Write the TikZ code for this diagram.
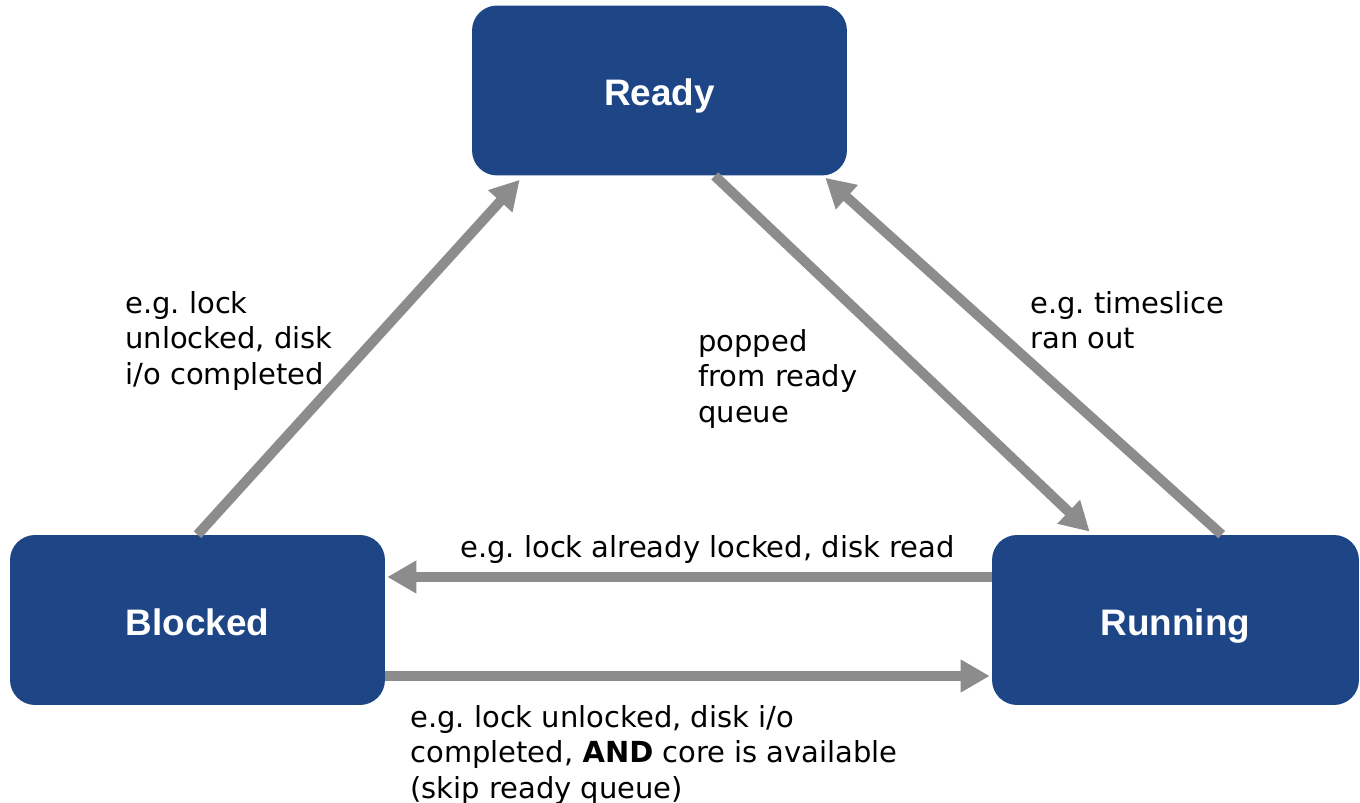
\documentclass[tikz,border=0pt]{standalone}
\usepackage{fontspec}
\setmainfont{DejaVu Sans}
\newfontfamily\statefont{Liberation Sans}
\usepackage{tikz}
\usetikzlibrary{arrows.meta,positioning,calc}
\definecolor{stBlue}{HTML}{1E4687}
\definecolor{stGray}{HTML}{8C8C8C}
\frenchspacing

\begin{document}
\begin{tikzpicture}[
    x=0.02cm, y=-0.02cm,
    state/.style={fill=stBlue, draw=none, rounded corners=0.5cm, minimum width=7.5cm, minimum height=3.4cm, text height=17.6pt, text depth=0pt, text=white, font=\statefont\fontsize{21}{25}\selectfont\bfseries},
    note/.style={anchor=north west, inner sep=0pt, align=left, font=\fontsize{16.5}{20.2}\selectfont},
    move/.style={-{Triangle[length=0.58cm,width=0.62cm]}, line width=0.2cm, draw=stGray}
]
\useasboundingbox (0,0) rectangle (1360,803);

\node[state] (ready) at (659.5,90.5) {Ready};
\node[state] (blocked) at (197.5,620) {Blocked};
\node[state, minimum width=7.34cm] (running) at (1175.5,620) {Running};

\node[note] (unlockNote) at (125,291) {e.g. lock\\unlocked, disk\\i/o completed};
\node[note] (popNote) at (698,329) {popped\\from ready\\queue};
\node[note] (sliceNote) at (1030,291) {e.g. timeslice\\ran out};
\node[note] (lockNote) at (460,535) {e.g. lock already locked, disk read};
\node[note] (skipNote) at (410,705) {e.g. lock unlocked, disk i/o\\completed, \textbf{AND} core is available\\(skip ready queue)};

\draw[move] (blocked.north) -- ($(ready.south west)+(48,4)$);
\draw[move] ($(ready.south west)+(243,0)$) -- ($(running.north west)+(98,-3)$);
\draw[move] ($(running.north west)+(230,0)$) -- ($(ready.south east)+(-22,2)$);
\draw[move] ($(running.west)+(0,-43)$) -- ($(blocked.east)+(2,-43)$);
\draw[move] ($(blocked.east)+(0,56)$) -- ($(running.west)+(-2,56)$);
\end{tikzpicture}
\end{document}
